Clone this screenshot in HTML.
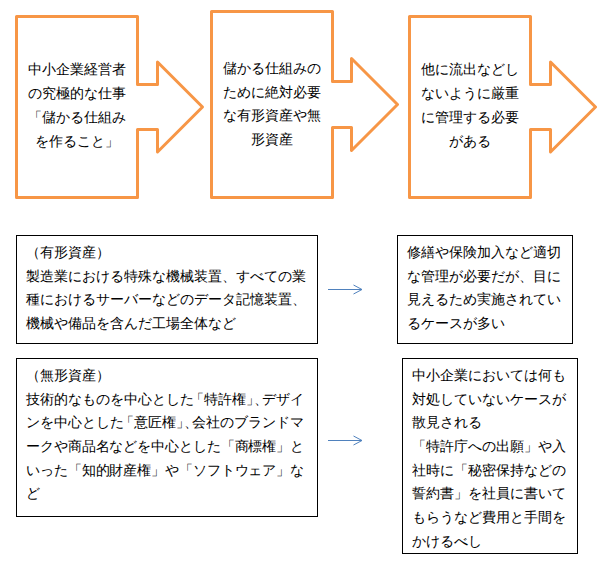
<!DOCTYPE html>
<html lang="ja">
<head>
<meta charset="utf-8">
<style>
html,body{margin:0;padding:0;background:#fff;}
body{width:608px;height:562px;position:relative;overflow:hidden;font-family:"Liberation Sans",sans-serif;color:#000;}
svg.bg{position:absolute;left:0;top:0;}
.box{position:absolute;border:1px solid #000;box-sizing:border-box;}
.t{position:absolute;font-size:14px;line-height:23.7px;white-space:nowrap;}
.t div{height:23.7px;}
.c{text-align:center;}
.o{line-height:24px;}
.o div{height:24px;}
.ob{margin-left:-4px;}
.cb{letter-spacing:-6px;}
.f{text-align:justify;text-align-last:justify;}
</style>
</head>
<body>
<svg class="bg" width="608" height="562" viewBox="0 0 608 562">
  <g fill="none" stroke="#F79646" stroke-width="3" stroke-linejoin="round">
    <path d="M16.5,16.5 H137.5 V84.5 H157.5 V62 L202.5,107 L157.5,152 V129.5 H137.5 V197.5 H16.5 Z"/>
    <path d="M211.5,11.5 H332.5 V81.5 H351.5 V58.5 L397.5,104.5 L351.5,150.5 V127.5 H332.5 V197.5 H211.5 Z"/>
    <path d="M409.5,16.5 H530.5 V84.5 H550.5 V62 L595.5,107 L550.5,152 V129.5 H530.5 V197.5 H409.5 Z"/>
  </g>
  <g fill="none" stroke="#4F81BD" stroke-width="1">
    <path d="M328,289.5 H362 M353.5,285 L362,289.5 L353.5,294"/>
    <path d="M328,440.5 H362 M353.5,436 L362,440.5 L353.5,445"/>
  </g>
</svg>

<!-- orange box texts -->
<div class="t c o" style="left:18px;top:57px;width:118px;">
  <div>中小企業経営者</div><div>の究極的な仕事</div><div>「儲かる仕組み</div><div>を作ること」</div>
</div>
<div class="t c" style="left:213px;top:57px;width:118px;">
  <div>儲かる仕組みの</div><div>ために絶対必要</div><div>な有形資産や無</div><div>形資産</div>
</div>
<div class="t c o" style="left:411px;top:57px;width:118px;">
  <div>他に流出などし</div><div>ないように厳重</div><div>に管理する必要</div><div>がある</div>
</div>

<!-- black boxes -->
<div class="box" style="left:16px;top:235px;width:302px;height:109px;"></div>
<div class="box" style="left:16px;top:358px;width:302px;height:159px;"></div>
<div class="box" style="left:397px;top:235px;width:176px;height:109px;"></div>
<div class="box" style="left:402px;top:358px;width:176px;height:196px;"></div>

<div class="t" style="left:26px;top:241px;width:280px;">
  <div>（有形資産）</div>
  <div class="f">製造業における特殊な機械装置、すべての業</div>
  <div class="f">種におけるサーバーなどのデータ記憶装置、</div>
  <div>機械や備品を含んだ工場全体など</div>
</div>

<div class="t" style="left:26px;top:364px;width:278px;">
  <div>（無形資産）</div>
  <div class="f">技術的なものを中心とした<span class="ob">「</span>特許権<span class="cb">」、</span>デザイ</div>
  <div class="f">ンを中心とした<span class="ob">「</span>意匠権<span class="cb">」、</span>会社のブランドマ</div>
  <div style="letter-spacing:-0.1px" class="f">ークや商品名などを中心とした「商標権」と</div>
  <div style="letter-spacing:-0.1px" class="f">いった「知的財産権」や「ソフトウェア」な</div>
  <div>ど</div>
</div>

<div class="t" style="left:407px;top:241px;width:154px;">
  <div class="f">修繕や保険加入など適切</div>
  <div class="f">な管理が必要だが、目に</div>
  <div class="f">見えるため実施されてい</div>
  <div>るケースが多い</div>
</div>

<div class="t" style="left:412px;top:364px;width:154px;">
  <div class="f">中小企業においては何も</div>
  <div class="f">対処していないケースが</div>
  <div>散見される</div>
  <div class="f">「特許庁への出願」や入</div>
  <div class="f">社時に「秘密保持などの</div>
  <div class="f">誓約書」を社員に書いて</div>
  <div class="f">もらうなど費用と手間を</div>
  <div>かけるべし</div>
</div>
</body>
</html>
